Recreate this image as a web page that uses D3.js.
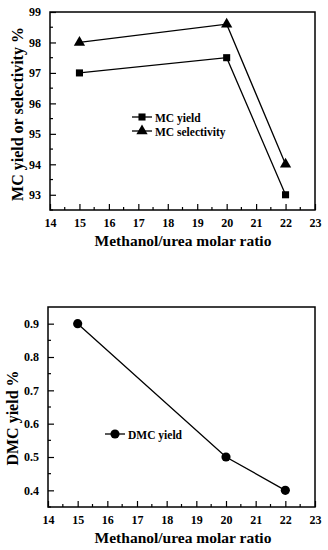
<!DOCTYPE html>
<html>
<head>
<meta charset="utf-8">
<script src="https://cdn.jsdelivr.net/npm/d3@7"></script>
<style>
  body { margin: 0; background: #fff; }
  svg text { font-family: "Liberation Serif", "Times New Roman", serif; font-weight: bold; fill: #000; }
</style>
</head>
<body>
<svg id="chart" width="328" height="550"></svg>
<script>
// data
let ratios = [15, 20, 22];
let mcYield = [97, 97.5, 93];
let mcSelectivity = [98, 98.6, 94];
let dmcYield = [0.9, 0.5, 0.4];

let xTicks = [14, 15, 16, 17, 18, 19, 20, 21, 22, 23];
let topYTicks = [93, 94, 95, 96, 97, 98, 99];
let bottomYTicks = [0.4, 0.5, 0.6, 0.7, 0.8, 0.9];

let svg = d3.select("#chart");

// draws one framed panel with inward ticks, returns scales + group
function panel(opt) {
  let g = svg.append("g");
  let x = d3.scaleLinear().domain([14, 23]).range([opt.left, opt.right]);
  let y = d3.scaleLinear().domain(opt.yDomain).range([opt.bottom, opt.top]);

  // minor ticks
  let xMinor = d3.range(14.5, 23, 1);
  g.selectAll(".xminor").data(xMinor).enter().append("line")
    .attr("x1", d => x(d)).attr("x2", d => x(d))
    .attr("y1", opt.bottom).attr("y2", opt.bottom - 3)
    .attr("stroke", "#000").attr("stroke-width", 1.2);
  g.selectAll(".yminor").data(opt.yMinor).enter().append("line")
    .attr("x1", opt.left).attr("x2", opt.left + 3)
    .attr("y1", d => y(d)).attr("y2", d => y(d))
    .attr("stroke", "#000").attr("stroke-width", 1.2);

  // major ticks + labels
  let xAxis = d3.axisBottom(x).tickValues(xTicks).tickSizeInner(-6).tickSizeOuter(0).tickPadding(8);
  let gx = g.append("g").attr("transform", "translate(0," + opt.bottom + ")").call(xAxis);
  let yAxis = d3.axisLeft(y).tickValues(opt.yTicks).tickFormat(opt.yFormat).tickSizeInner(-6).tickSizeOuter(0).tickPadding(9);
  let gy = g.append("g").attr("transform", "translate(" + opt.left + ",0)").call(yAxis);
  [gx, gy].forEach(a => {
    a.attr("font-family", null);
    a.select(".domain").remove();
    a.selectAll("line").attr("stroke-width", 1.2);
    a.selectAll("text").style("font-family", '"Liberation Serif", serif')
      .style("font-weight", "bold").style("font-size", "12px");
  });

  // frame
  g.append("rect")
    .attr("x", opt.left).attr("y", opt.top)
    .attr("width", opt.right - opt.left).attr("height", opt.bottom - opt.top)
    .attr("fill", "none").attr("stroke", "#000").attr("stroke-width", 1.5);

  // titles
  g.append("text")
    .attr("x", 183).attr("y", opt.bottom + 36)
    .attr("text-anchor", "middle").style("font-size", "15.5px")
    .text("Methanol/urea molar ratio");
  g.append("text")
    .attr("transform", "translate(" + opt.yTitleX + "," + opt.yTitleY + ") rotate(-90)")
    .attr("text-anchor", "middle").style("font-size", "16px")
    .text(opt.yTitle);

  return { g: g, x: x, y: y };
}

function series(p, values, shape) {
  let line = d3.line().x((d, i) => p.x(ratios[i])).y(d => p.y(d));
  p.g.append("path").datum(values)
    .attr("d", line).attr("fill", "none")
    .attr("stroke", "#000").attr("stroke-width", 1.3);
  p.g.selectAll(null).data(values).enter().append("path")
    .attr("transform", (d, i) => "translate(" + p.x(ratios[i]) + "," + p.y(d) + ")")
    .attr("d", shape).attr("fill", "#000");
}

function legendItem(g, lx, ly, shape, label) {
  g.append("line").attr("x1", lx - 10).attr("x2", lx + 10)
    .attr("y1", ly).attr("y2", ly).attr("stroke", "#000").attr("stroke-width", 1.3);
  g.append("path").attr("transform", "translate(" + lx + "," + ly + ")")
    .attr("d", shape).attr("fill", "#000");
  g.append("text").attr("x", lx + 13).attr("y", ly + 4.5)
    .style("font-size", "11.5px").text(label);
}

let square = d3.symbol(d3.symbolSquare, 50)();
let triangle = d3.symbol(d3.symbolTriangle, 55)();
let circle = d3.symbol(d3.symbolCircle, 66)();

// top panel
let topPanel = panel({
  left: 50, right: 315, top: 12, bottom: 210,
  yDomain: [92.5, 99], yTicks: topYTicks, yMinor: d3.range(92.5, 99, 1),
  yFormat: d3.format("d"),
  yTitle: "MC yield or selectivity %", yTitleX: 23, yTitleY: 114
});
series(topPanel, mcYield, square);
series(topPanel, mcSelectivity, triangle);
legendItem(topPanel.g, 142, 117, square, "MC yield");
legendItem(topPanel.g, 142, 131, triangle, "MC selectivity");

// bottom panel
let bottomPanel = panel({
  left: 48, right: 315, top: 307, bottom: 507,
  yDomain: [0.35, 0.95], yTicks: bottomYTicks, yMinor: d3.range(0.35, 0.95, 0.1),
  yFormat: d3.format(".1f"),
  yTitle: "DMC yield %", yTitleX: 18, yTitleY: 418
});
series(bottomPanel, dmcYield, circle);
legendItem(bottomPanel.g, 115, 434, circle, "DMC yield");
</script>
</body>
</html>
